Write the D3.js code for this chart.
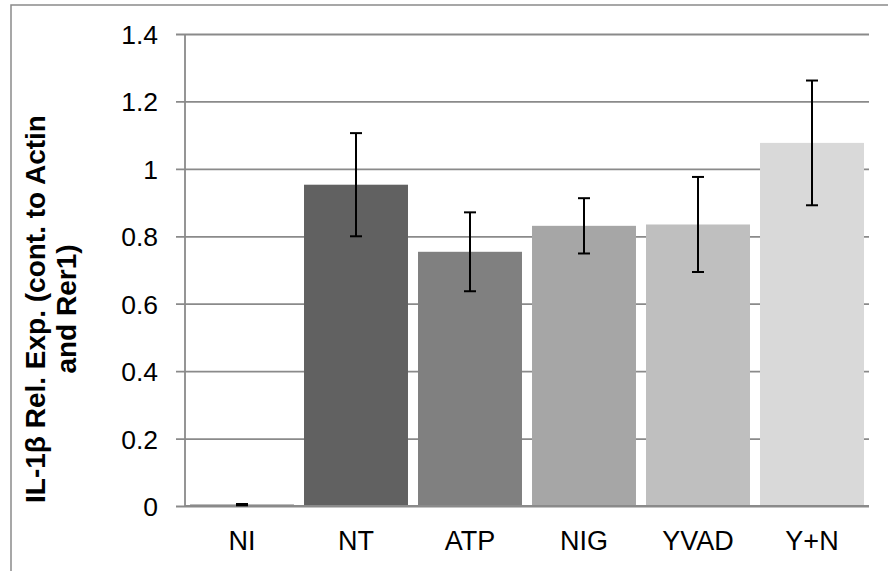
<!DOCTYPE html>
<html>
<head>
<meta charset="utf-8">
<script src="https://cdn.jsdelivr.net/npm/d3@7"></script>
<style>
  html, body { margin: 0; padding: 0; background: #fff; }
  svg { display: block; }
  text { font-family: "Liberation Sans", Arial, sans-serif; }
</style>
</head>
<body>
<svg id="chart" width="888" height="571"></svg>
<script>
// IL-1β relative expression per treatment
const categories = ["NI", "NT", "ATP", "NIG", "YVAD", "Y+N"];
const values     = [0.004, 0.953, 0.754, 0.831, 0.835, 1.077];
const errors     = [0.002, 0.153, 0.117, 0.082, 0.141, 0.185];
const barColors  = ["#404040", "#616161", "#808080", "#a6a6a6", "#bfbfbf", "#d9d9d9"];
const yTicks     = [0, 0.2, 0.4, 0.6, 0.8, 1, 1.2, 1.4];
const yTitle     = ["IL-1β Rel. Exp. (cont. to Actin", "and Rer1)"];

const svg = d3.select("#chart");
const plotLeft = 185, plotRight = 869, plotTop = 34, plotBottom = 506;
const gridColor = "#8a8a8a";

// outer frame
svg.append("rect")
  .attr("x", 11).attr("y", 5)
  .attr("width", 900).attr("height", 600)
  .attr("fill", "none")
  .attr("stroke", gridColor)
  .attr("stroke-width", 1.5);

const x = d3.scaleBand()
  .domain(categories)
  .range([plotLeft, plotRight])
  .paddingInner(0.088)
  .paddingOuter(0.044);

const y = d3.scaleLinear().domain([0, 1.4]).range([plotBottom, plotTop]);

// horizontal gridlines with left tick marks
const yAxis = d3.axisLeft(y)
  .tickValues(yTicks)
  .tickSize(-(plotRight - plotLeft))
  .tickFormat(d3.format("~g"));

const gy = svg.append("g")
  .attr("transform", `translate(${plotLeft},0)`)
  .call(yAxis);
gy.select(".domain").remove();
gy.selectAll(".tick line")
  .attr("x1", -9)
  .attr("stroke", gridColor)
  .attr("stroke-width", 1.8);
gy.selectAll(".tick text")
  .attr("x", -27)
  .attr("dy", "0.36em")
  .attr("fill", "#000")
  .style("font-size", "26.5px");

// vertical axis line
svg.append("line")
  .attr("x1", plotLeft).attr("x2", plotLeft)
  .attr("y1", plotTop).attr("y2", plotBottom)
  .attr("stroke", gridColor)
  .attr("stroke-width", 1.8);

// bars
svg.append("g").selectAll("rect")
  .data(categories)
  .join("rect")
  .attr("x", d => x(d))
  .attr("width", x.bandwidth())
  .attr("y", (d, i) => y(values[i]))
  .attr("height", (d, i) => y(0) - y(values[i]))
  .attr("fill", (d, i) => barColors[i]);

// baseline over bars
svg.append("line")
  .attr("x1", plotLeft).attr("x2", plotRight)
  .attr("y1", y(0)).attr("y2", y(0))
  .attr("stroke", gridColor)
  .attr("stroke-width", 1.8);

// error bars
const eb = svg.append("g")
  .attr("stroke", "#000")
  .attr("stroke-width", 2)
  .selectAll("g")
  .data(categories)
  .join("g");
const cx = d => x(d) + x.bandwidth() / 2;
eb.append("line")
  .attr("x1", cx).attr("x2", cx)
  .attr("y1", (d, i) => y(values[i] + errors[i]))
  .attr("y2", (d, i) => y(values[i] - errors[i]));
eb.append("line")
  .attr("x1", d => cx(d) - 6).attr("x2", d => cx(d) + 6)
  .attr("y1", (d, i) => y(values[i] + errors[i]))
  .attr("y2", (d, i) => y(values[i] + errors[i]));
eb.append("line")
  .attr("x1", d => cx(d) - 6).attr("x2", d => cx(d) + 6)
  .attr("y1", (d, i) => y(values[i] - errors[i]))
  .attr("y2", (d, i) => y(values[i] - errors[i]));

// category labels
svg.append("g").selectAll("text")
  .data(categories)
  .join("text")
  .attr("x", cx)
  .attr("y", 550)
  .attr("text-anchor", "middle")
  .style("font-size", "27px")
  .attr("fill", "#000")
  .text(d => d);

// y-axis title, two lines
const title = svg.append("text")
  .attr("transform", "translate(45,309) rotate(-90)")
  .attr("text-anchor", "middle")
  .style("font-size", "28px")
  .style("font-weight", "bold")
  .attr("fill", "#000");
yTitle.forEach((t, i) => {
  title.append("tspan")
    .attr("x", 0)
    .attr("dy", i === 0 ? 0 : 31)
    .text(t);
});
</script>
</body>
</html>
